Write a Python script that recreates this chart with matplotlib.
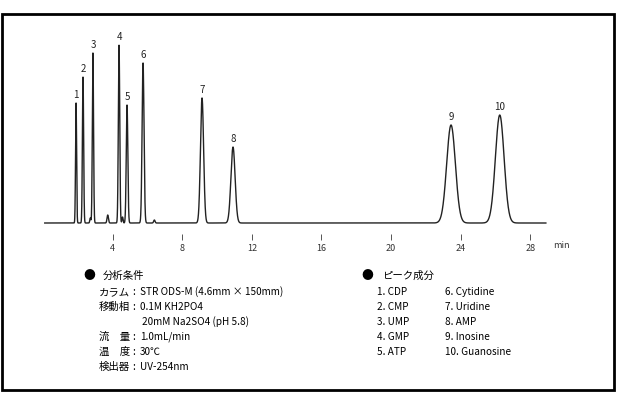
import numpy as np
import matplotlib
matplotlib.use('Agg')
import matplotlib.pyplot as plt
from matplotlib.patches import Rectangle

plt.rcParams['font.family'] = ['Noto Sans CJK JP', 'DejaVu Sans']

# peak table (min, height in px units, sigma in min)
peak_labels = ['1', '2', '3', '4', '5', '6', '7', '8', '9', '10']
retention = [1.90, 2.30, 2.87, 4.37, 4.83, 5.75, 9.14, 10.92, 23.45, 26.25]
heights = [120, 146, 170, 178, 118, 160, 125, 76, 98, 108]
sigmas = [0.03, 0.035, 0.035, 0.04, 0.045, 0.055, 0.09, 0.12, 0.25, 0.25]

# small unlabeled bumps on the baseline
minor_rt = [2.72, 3.72, 4.57, 6.40]
minor_h = [5, 8, 6, 3]
minor_sig = [0.03, 0.04, 0.03, 0.04]

xticks = [4, 8, 12, 16, 20, 24, 28]

conditions_head = '分析条件'
conditions = [
    ('カラム', 'STR ODS-M (4.6mm × 150mm)'),
    ('移動相', '0.1M KH2PO4'),
    ('', '20mM Na2SO4 (pH 5.8)'),
    ('流　量', '1.0mL/min'),
    ('温　度', '30℃'),
    ('検出器', 'UV-254nm'),
]
peaks_head = 'ピーク成分'
compounds = ['CDP', 'CMP', 'UMP', 'GMP', 'ATP',
             'Cytidine', 'Uridine', 'AMP', 'Inosine', 'Guanosine']

W, H = 618, 394
fig = plt.figure(figsize=(W / 100, H / 100), dpi=100)

# axes placed in pixel terms: 0 min at x=43, 17.4 px/min, baseline y=223
x0, ppm = 43, 17.4
xmax = 29
ax = fig.add_axes([x0 / W, 1 - 240 / H, xmax * ppm / W, 210 / H])
ax.set_xlim(0, xmax)
ax.set_ylim(-17, 193)

t = np.linspace(0.1, 28.9, 6000)
y = np.zeros_like(t)
for rt, h, s in zip(retention + minor_rt, heights + minor_h, sigmas + minor_sig):
    y += h * np.exp(-0.5 * ((t - rt) / s) ** 2)
ax.plot(t, y, color='#222222', lw=1.0)

for lab, rt, h in zip(peak_labels, retention, heights):
    ax.text(rt, h + 3, lab, ha='center', va='bottom', fontsize=7,
            color='#222222')

for s in ax.spines.values():
    s.set_visible(False)
ax.set_yticks([])
ax.set_xticks(xticks)
ax.set_xticklabels([str(v) for v in xticks], fontsize=6.5, color='#333333')
ax.tick_params(axis='x', direction='in', length=4, width=0.7,
               color='#555555', pad=3)
fig.text(553 / W, 1 - 246 / H, 'min', fontsize=6.5, color='#333333',
         ha='left', va='center')

# lower left block
def fy(py):
    return 1 - py / H

def fx(px):
    return px / W

fs = 7.5
fig.text(fx(89), fy(276), '●', fontsize=8.5, ha='center', va='center')
fig.text(fx(103), fy(276), conditions_head, fontsize=fs, va='center')
row_y = [292, 307, 322, 337, 352, 367]
for (k, v), py in zip(conditions, row_y):
    if k:
        fig.text(fx(99), fy(py), k, fontsize=fs, va='center')
        fig.text(fx(134), fy(py), ':', fontsize=fs, va='center', ha='center')
        fig.text(fx(140), fy(py), v, fontsize=fs - 0.3, va='center')
    else:
        fig.text(fx(142), fy(py), v, fontsize=fs - 0.3, va='center')

# lower right block
fig.text(fx(367), fy(276), '●', fontsize=8.5, ha='center', va='center')
fig.text(fx(382), fy(276), peaks_head, fontsize=fs, va='center')
for i, name in enumerate(compounds):
    py = row_y[i % 5]
    px = 377 if i < 5 else 445
    fig.text(fx(px), fy(py), f'{i + 1}. {name}', fontsize=fs - 0.3,
             va='center')

# frame round the whole figure
fig.patches.append(Rectangle((fx(2), fy(390)), fx(612), (390 - 14) / H,
                             transform=fig.transFigure, fill=False,
                             edgecolor='black', lw=2))

fig.savefig('out.png', dpi=100)
